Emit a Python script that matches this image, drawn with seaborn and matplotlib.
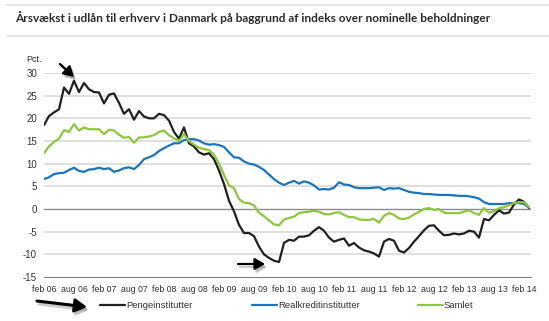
import numpy as np
import pandas as pd
import matplotlib
matplotlib.use("Agg")
import matplotlib.pyplot as plt
import seaborn as sns
from matplotlib.lines import Line2D
from matplotlib.patches import FancyArrowPatch

# ---- data (monthly, feb 2006 -> mar 2014) ----
pengeinstitutter = [
    18.5, 20.5, 21.3, 22.0, 26.8, 25.4, 28.3, 25.8, 27.8, 26.4,
    25.8, 25.7, 23.3, 25.2, 25.5, 23.4, 21.0, 22.0, 19.7, 21.6,
    20.4, 20.0, 20.0, 21.0, 20.7, 19.5, 17.0, 15.5, 18.0, 14.5,
    13.8, 12.5, 12.0, 12.3, 11.0, 8.5, 5.5, 1.8, -0.5, -3.5,
    -5.3, -5.3, -6.0, -8.3, -10.0, -10.8, -11.4, -11.7, -7.5, -6.8,
    -7.0, -6.1, -6.1, -5.8, -4.8, -4.0, -4.8, -6.3, -7.2, -6.8,
    -6.5, -8.1, -7.5, -8.5, -9.1, -9.4, -9.8, -10.5, -7.2, -6.6,
    -7.0, -9.2, -9.6, -8.6, -7.2, -6.0, -4.7, -3.7, -3.6, -4.8,
    -5.8, -5.7, -5.4, -5.6, -5.4, -4.8, -5.0, -6.3, -2.2, -2.5,
    -1.3, -0.3, -1.0, -0.8, 1.0, 2.1, 1.6, 0.2]
realkreditinstitutter = [
    6.6, 7.0, 7.7, 7.9, 8.0, 8.6, 9.1, 8.4, 8.2, 8.7,
    8.8, 9.1, 8.8, 9.0, 8.2, 8.5, 9.0, 9.2, 8.8, 9.7,
    11.0, 11.4, 11.9, 12.8, 13.4, 14.0, 14.5, 14.5, 15.2, 15.4,
    15.4, 15.1, 14.5, 14.2, 14.3, 14.1, 13.7, 12.5, 11.4, 11.3,
    10.5, 10.0, 9.8, 9.3, 8.6, 7.6, 6.6, 5.8, 5.3, 5.8,
    6.2, 5.6, 6.1, 5.8, 5.2, 4.3, 4.4, 4.3, 4.7, 5.9,
    5.4, 5.3, 4.8, 4.6, 4.6, 4.6, 4.7, 4.8, 4.2, 4.6,
    4.5, 4.6, 4.2, 3.8, 3.6, 3.5, 3.3, 3.3, 3.2, 3.1,
    3.1, 3.1, 3.0, 2.9, 2.9, 2.8, 2.6, 2.3, 1.5, 1.1,
    1.1, 1.1, 1.1, 1.3, 1.3, 1.3, 1.1, 0.3]
samlet = [
    12.3, 13.8, 14.8, 15.5, 17.4, 17.0, 18.7, 17.3, 18.0, 17.6,
    17.6, 17.6, 16.5, 17.5, 17.3, 16.4, 15.7, 15.9, 14.6, 15.8,
    15.8, 16.0, 16.3, 17.0, 17.3, 16.3, 15.6, 15.0, 16.5, 15.0,
    14.2, 13.5, 13.2, 13.0, 12.0, 10.0, 7.5, 5.2, 4.6, 2.2,
    1.4, 1.3, 0.8, -0.8, -1.6, -2.5, -3.4, -3.6, -2.3, -2.0,
    -1.7, -0.9, -0.7, -0.6, -0.4, -0.6, -1.1, -1.2, -0.9, -0.7,
    -1.3, -1.8, -1.8, -2.3, -2.4, -2.4, -2.2, -3.0, -1.5, -0.9,
    -1.3, -2.1, -2.2, -1.9, -1.2, -0.6, 0.0, 0.2, -0.2, 0.0,
    -0.8, -0.9, -0.9, -0.9, -0.6, -0.3, -0.9, -1.3, 0.2, -0.8,
    -0.5, 0.2, 0.4, 0.8, 1.3, 1.5, 1.5, 0.4]

series_names = ["Pengeinstitutter", "Realkreditinstitutter", "Samlet"]
tick_labels = ["feb 06", "aug 06", "feb 07", "aug 07", "feb 08", "aug 08",
               "feb 09", "aug 09", "feb 10", "aug 10", "feb 11", "aug 11",
               "feb 12", "aug 12", "feb 13", "aug 13", "feb 14"]
y_ticks = [-15, -10, -5, 0, 5, 10, 15, 20, 25, 30]

title = "Årsvækst i udlån til erhverv i Danmark på baggrund af indeks over nominelle beholdninger"

months = np.arange(len(pengeinstitutter))
df = pd.concat([
    pd.DataFrame({"m": months, "v": pengeinstitutter, "s": series_names[0]}),
    pd.DataFrame({"m": months, "v": realkreditinstitutter, "s": series_names[1]}),
    pd.DataFrame({"m": months, "v": samlet, "s": series_names[2]}),
])

sns.set_theme(style="white")
plt.rcParams["font.family"] = ["Liberation Sans", "DejaVu Sans"]

W, H = 549, 321
fig = plt.figure(figsize=(W / 100, H / 100), dpi=100)
fig.patch.set_facecolor("white")

def fx(x):
    return x / W

def fy(y):
    return 1 - y / H

ax = fig.add_axes([fx(44), fy(277), fx(531) - fx(44), fy(73) - fy(277)])
palette = {series_names[0]: "#231f20", series_names[1]: "#1b75bc", series_names[2]: "#8dc63f"}
sns.lineplot(data=df, x="m", y="v", hue="s", palette=palette, linewidth=1.6,
             ax=ax, legend=False)

ax.set_xlim(0, 97.4)
ax.set_ylim(-15, 30)
ax.set_xlabel("")
ax.set_ylabel("")
for s in ["top", "right", "left"]:
    ax.spines[s].set_visible(False)
ax.spines["bottom"].set_color("#7f7f7f")
ax.spines["bottom"].set_linewidth(0.8)

for yv in y_ticks:
    if yv == -15:
        continue
    ax.axhline(yv, color="#8c8c8c" if yv == 0 else "#d9d9d9",
               linewidth=1.0 if yv == 0 else 1.2, zorder=0)

ax.set_yticks(y_ticks)
ax.set_yticklabels([str(v) for v in y_ticks], fontsize=7, color="#333333")
ax.tick_params(axis="y", length=0, pad=5)
ax.set_xticks(np.arange(0, 97, 6))
ax.set_xticklabels(tick_labels, fontsize=6.3, color="#333333")
ax.tick_params(axis="x", length=3, width=0.8, color="#7f7f7f", pad=3, direction="out")

fig.text(fx(26), fy(60), "Pct.", fontsize=6.5, color="#333333", va="center", ha="left")

# title and separating lines
fig.add_artist(Line2D([fx(7), fx(549)], [fy(5), fy(5)], color="#e0e0e0", lw=1.2))
fig.add_artist(Line2D([fx(7), fx(549)], [fy(36), fy(36)], color="#e0e0e0", lw=1.2))
t = fig.text(fx(15), fy(18), title, fontsize=9, fontweight="bold",
             family=["Lato", "DejaVu Sans"], color="#2b2b2b", va="center", ha="left")
fig.canvas.draw()
bb = t.get_window_extent()
t.set_fontsize(9 * 476 / bb.width)

# legend: one entry per series, placed like the reference
legend_x = [100, 252, 418]
for name, lx in zip(series_names, legend_x):
    h = Line2D([0], [0], color=palette[name], lw=1.6)
    fig.legend([h], [name], loc="center left", bbox_to_anchor=(fx(lx), fy(306)),
               frameon=False, fontsize=6.8, handlelength=2.6, handletextpad=0.15,
               borderpad=0, borderaxespad=0, labelcolor="#333333")

# decorative arrows
def arrow(x0, y0, x1, y1, lw, hw, hl):
    style = f"-|>,head_width={hw},head_length={hl}"
    for dx, dy, c, a in [(2, 3, "#9a9a9a", 0.5), (0, 0, "black", 1.0)]:
        fig.add_artist(FancyArrowPatch(
            (fx(x0 + dx), fy(y0 + dy)), (fx(x1 + dx), fy(y1 + dy)),
            transform=fig.transFigure, arrowstyle=style, color=c, alpha=a,
            lw=lw, mutation_scale=10, shrinkA=0, shrinkB=0))

arrow(60, 64, 74, 77, 1.6, 0.35, 0.6)
arrow(238, 264, 265, 264, 1.6, 0.35, 0.6)
arrow(37, 301, 87, 307, 2.2, 0.4, 0.7)

fig.savefig("out.png", dpi=100, facecolor="white")
